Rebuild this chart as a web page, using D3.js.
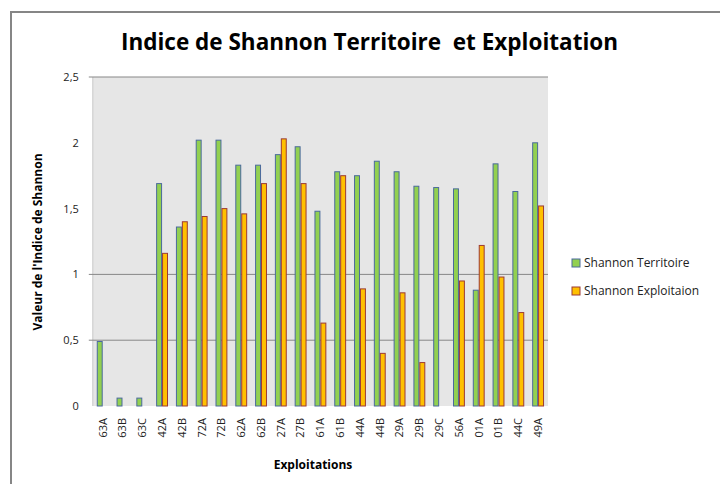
<!DOCTYPE html>
<html>
<head>
<meta charset="utf-8">
<script src="https://cdn.jsdelivr.net/npm/d3@7"></script>
<style>
  body { margin: 0; background: #fff; }
  text { font-family: "Open Sans", "Noto Sans", sans-serif; }
</style>
</head>
<body>
<div id="chart"></div>
<script>
// exploitations (x categories)
var categories = ["63A", "63B", "63C", "42A", "42B", "72A", "72B", "62A", "62B", "27A", "27B",
    "61A", "61B", "44A", "44B", "29A", "29B", "29C", "56A", "01A", "01B", "44C", "49A"];

// Shannon Territoire
var territoire = [0.49, 0.06, 0.06, 1.69, 1.36, 2.02, 2.02, 1.83, 1.83, 1.91, 1.97,
    1.48, 1.78, 1.75, 1.86, 1.78, 1.67, 1.66, 1.65, 0.88, 1.84, 1.63, 2.00];

// Shannon Exploitaion (0 = no bar)
var exploitation = [0, 0, 0, 1.16, 1.40, 1.44, 1.50, 1.46, 1.69, 2.03, 1.69,
    0.63, 1.75, 0.89, 0.40, 0.86, 0.33, 0, 0.95, 1.22, 0.98, 0.71, 1.52];

var yTicks = [0, 0.5, 1, 1.5, 2, 2.5];
var gridValues = [0.5, 1, 2.5];
var seriesNames = ["Shannon Territoire", "Shannon Exploitaion"];

var svgWidth = 720;
var svgHeight = 484;

var margin = { top: 77, right: 172, bottom: 78, left: 92.8 };
var width = svgWidth - margin.left - margin.right;
var height = svgHeight - margin.top - margin.bottom;

var svg = d3.select("#chart")
    .append("svg")
    .attr("width", svgWidth)
    .attr("height", svgHeight);

// outer frame
svg.append("rect")
    .attr("x", 11)
    .attr("y", 12)
    .attr("width", 740)
    .attr("height", 500)
    .attr("fill", "none")
    .attr("stroke", "#868686")
    .attr("stroke-width", 2);

svg.append("text")
    .attr("x", 121)
    .attr("y", 49.5)
    .attr("textLength", 497)
    .attr("lengthAdjust", "spacingAndGlyphs")
    .attr("font-size", "24px")
    .attr("font-weight", "bold")
    .attr("fill", "#000")
    .style("white-space", "pre")
    .text("Indice de Shannon Territoire  et Exploitation");

var chartGroup = svg.append("g")
    .attr("transform", `translate(${margin.left}, ${margin.top})`);

var x0 = d3.scaleBand()
    .domain(categories)
    .range([0, width])
    .paddingInner(0.4)
    .paddingOuter(0.2);

var x1 = d3.scaleBand()
    .domain([0, 1])
    .range([0, x0.bandwidth()]);

var y = d3.scaleLinear()
    .domain([0, 2.5])
    .range([height, 0]);

chartGroup.append("rect")
    .attr("width", width)
    .attr("height", height)
    .attr("fill", "#e6e6e6");

// left axis line
chartGroup.append("line")
    .attr("x1", 0).attr("x2", 0)
    .attr("y1", 0).attr("y2", height)
    .attr("stroke", "#c8c8c8");

chartGroup.selectAll(".grid")
    .data(gridValues)
    .enter()
    .append("line")
    .attr("x1", -4)
    .attr("x2", width)
    .attr("y1", d => y(d))
    .attr("y2", d => y(d))
    .attr("stroke", "#878787")
    .attr("stroke-width", 1);

var yAxis = d3.axisLeft(y)
    .tickValues(yTicks)
    .tickSize(0)
    .tickPadding(14)
    .tickFormat(d => String(d).replace(".", ","));

var yG = chartGroup.append("g").call(yAxis);
yG.select(".domain").remove();
yG.selectAll("text")
    .attr("font-size", "11px")
    .attr("fill", "#222")
    .style("font-family", "\"Open Sans\", sans-serif");

var series = [
    { values: territoire, fill: "#92d050", stroke: "#4a6a9c" },
    { values: exploitation, fill: "#ffc000", stroke: "#9c3a34" }
];

series.forEach(function (s, i) {
    chartGroup.selectAll(".bar" + i)
        .data(categories)
        .enter()
        .append("rect")
        .filter((d, j) => s.values[j] > 0)
        .attr("x", d => x0(d) + x1(i) + 0.5)
        .attr("y", d => y(s.values[categories.indexOf(d)]))
        .attr("width", x1.bandwidth() - 1)
        .attr("height", d => height - y(s.values[categories.indexOf(d)]))
        .attr("fill", s.fill)
        .attr("stroke", s.stroke)
        .attr("stroke-width", 1);
});

var xAxis = d3.axisBottom(x0).tickSize(0).tickPadding(0);
var xG = chartGroup.append("g")
    .attr("transform", `translate(0, ${height})`)
    .call(xAxis);
xG.select(".domain").remove();
xG.selectAll("text")
    .attr("transform", "rotate(-90)")
    .attr("x", -12)
    .attr("y", 0)
    .attr("dy", "0.35em")
    .style("text-anchor", "end")
    .attr("font-size", "11px")
    .attr("fill", "#222")
    .style("font-family", "\"Open Sans\", sans-serif");

svg.append("text")
    .attr("x", 313)
    .attr("y", 469)
    .attr("text-anchor", "middle")
    .attr("font-size", "12px")
    .attr("font-weight", "bold")
    .text("Exploitations");

svg.append("text")
    .attr("transform", "translate(42, 242) rotate(-90)")
    .attr("text-anchor", "middle")
    .attr("font-size", "12px")
    .attr("font-weight", "bold")
    .text("Valeur de l'Indice de Shannon");

// legend
var legend = svg.selectAll(".legend")
    .data(seriesNames)
    .enter()
    .append("g")
    .attr("transform", (d, i) => `translate(572, ${259 + i * 28})`);

legend.append("rect")
    .attr("width", 8)
    .attr("height", 8)
    .attr("fill", (d, i) => series[i].fill)
    .attr("stroke", (d, i) => series[i].stroke);

legend.append("text")
    .attr("x", 12)
    .attr("y", 8)
    .attr("font-size", "12px")
    .attr("fill", "#222")
    .text(d => d);
</script>
</body>
</html>
